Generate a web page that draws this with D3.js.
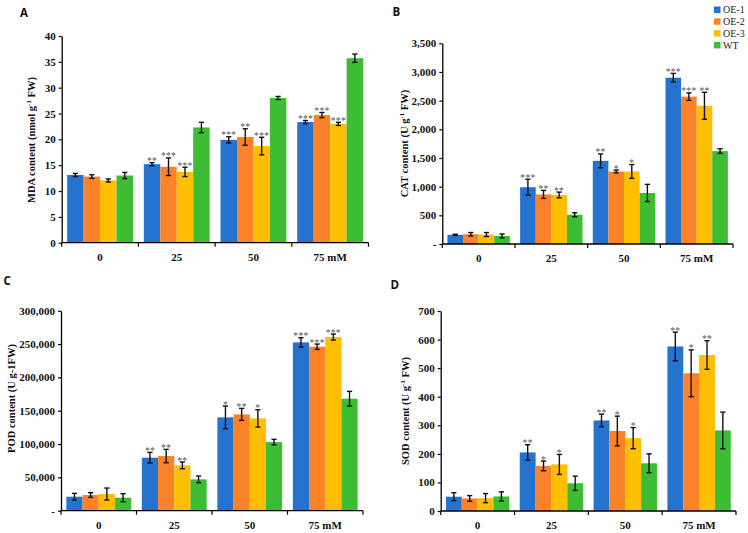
<!DOCTYPE html>
<html>
<head>
<meta charset="utf-8">
<script src="https://cdn.jsdelivr.net/npm/d3@7"></script>
<style>
  html, body { margin: 0; padding: 0; background: #fff; }
  svg { display: block; }
</style>
</head>
<body>
<svg id="chart" width="748" height="533"></svg>
<script>
// ---------- DATA ----------
const groups = ["0", "25", "50", "75 mM"];
const series = ["OE-1", "OE-2", "OE-3", "WT"];

// values[group][series]
const mdaValues = [[13.1, 12.8, 12.05, 13.0], [15.2, 14.7, 13.7, 22.3], [19.9, 20.45, 18.7, 28.0], [23.35, 24.7, 23.0, 35.7]];
const mdaErrors = [[0.3, 0.35, 0.3, 0.6], [0.3, 1.7, 0.9, 1.0], [0.6, 1.6, 1.7, 0.3], [0.3, 0.5, 0.3, 0.8]];
const mdaStars = [["", "", "", ""], ["**", "***", "***", ""], ["***", "**", "***", ""], ["***", "***", "***", ""]];
const mdaTicks = [0, 5, 10, 15, 20, 25, 30, 35, 40];
const mdaTickLabels = ["0", "5", "10", "15", "20", "25", "30", "35", "40"];

const catValues = [[160, 170, 165, 140], [990, 865, 855, 510], [1450, 1265, 1265, 890], [2900, 2570, 2410, 1620]];
const catErrors = [[10, 30, 35, 35], [140, 70, 50, 35], [120, 25, 120, 150], [75, 65, 235, 40]];
const catStars = [["", "", "", ""], ["***", "**", "**", ""], ["**", "*", "*", ""], ["***", "***", "**", ""]];
const catTicks = [0, 500, 1000, 1500, 2000, 2500, 3000, 3500];
const catTickLabels = ["-", "500", "1,000", "1,500", "2,000", "2,500", "3,000", "3,500"];

const podValues = [[21000, 23500, 25000, 19500], [79500, 82000, 68000, 47000], [140000, 144500, 138500, 103000], [252500, 246000, 260500, 168000]];
const podErrors = [[5000, 3500, 9000, 6000], [8000, 10000, 5000, 5000], [17000, 9000, 13000, 4000], [7000, 4000, 4500, 11000]];
const podStars = [["", "", "", ""], ["**", "**", "**", ""], ["*", "**", "*", ""], ["***", "***", "***", ""]];
const podTicks = [0, 50000, 100000, 150000, 200000, 250000, 300000];
const podTickLabels = ["-", "50,000", "100,000", "150,000", "200,000", "250,000", "300,000"];

const sodValues = [[50, 44, 45, 51], [205, 158, 163, 97], [317, 280, 255, 167], [576, 482, 546, 282]];
const sodErrors = [[14, 10, 16, 16], [27, 17, 35, 25], [22, 52, 37, 33], [50, 82, 50, 64]];
const sodStars = [["", "", "", ""], ["**", "*", "*", ""], ["**", "*", "*", ""], ["**", "*", "**", ""]];
const sodTicks = [0, 100, 200, 300, 400, 500, 600, 700];
const sodTickLabels = ["0", "100", "200", "300", "400", "500", "600", "700"];

// ---------- STYLE / LAYOUT ----------
const colors = ["#2672cf", "#fa8228", "#ffbf00", "#3cbd33"];
const serif = "'Liberation Serif','Times New Roman',serif";
const svg = d3.select("#chart");
svg.append("rect").attr("width", 748).attr("height", 533).attr("fill", "#fff");

const panels = [
  { letter: "A", lx: 20, ly: 16.5, x0: 61.7, x1: 368.5, yTop: 36, yBot: 242.7, max: 40,
    values: mdaValues, errors: mdaErrors, stars: mdaStars, ticks: mdaTicks, tickLabels: mdaTickLabels,
    labelX: 33, labelY: 140, label: ["MDA content (nmol g", "-1", " FW)"] },
  { letter: "B", lx: 392.5, ly: 15.5, x0: 442.3, x1: 733, yTop: 43.3, yBot: 244, max: 3500,
    values: catValues, errors: catErrors, stars: catStars, ticks: catTicks, tickLabels: catTickLabels,
    labelX: 405.7, labelY: 143.5, label: ["CAT content (U g", "-1", " FW)"] },
  { letter: "C", lx: 3.5, ly: 284.5, x0: 61, x1: 363, yTop: 310.7, yBot: 510.7, max: 300000,
    values: podValues, errors: podErrors, stars: podStars, ticks: podTicks, tickLabels: podTickLabels,
    labelX: 13.3, labelY: 398.5, label: ["POD content (U g-1FW)"] },
  { letter: "D", lx: 390.5, ly: 288.5, x0: 440.7, x1: 736, yTop: 311, yBot: 511, max: 700,
    values: sodValues, errors: sodErrors, stars: sodStars, ticks: sodTicks, tickLabels: sodTickLabels,
    labelX: 407, labelY: 411, label: ["SOD content (U g", "-1", " FW)"] }
];

panels.forEach(p => {
  const g = svg.append("g");
  const x = d3.scaleBand().domain(groups).range([p.x0, p.x1]).padding(0);
  const xs = d3.scaleBand().domain(series).range([0, x.bandwidth()]).paddingInner(0).paddingOuter(0.33);
  const y = d3.scaleLinear().domain([0, p.max]).range([p.yBot, p.yTop]);

  // bars
  groups.forEach((grp, gi) => {
    series.forEach((s, si) => {
      const v = p.values[gi][si], e = p.errors[gi][si];
      const bx = x(grp) + xs(s);
      const cx = bx + xs.bandwidth() / 2;
      g.append("rect").attr("x", bx).attr("y", y(v)).attr("width", xs.bandwidth())
        .attr("height", y(0) - y(v)).attr("fill", colors[si]);
      // error bars
      const eg = g.append("g").attr("stroke", "#111").attr("stroke-width", 1.4);
      eg.append("line").attr("x1", cx).attr("x2", cx).attr("y1", y(v + e)).attr("y2", y(v - e));
      eg.append("line").attr("x1", cx - 2.6).attr("x2", cx + 2.6).attr("y1", y(v + e)).attr("y2", y(v + e));
      eg.append("line").attr("x1", cx - 2.6).attr("x2", cx + 2.6).attr("y1", y(v - e)).attr("y2", y(v - e));
      const st = p.stars[gi][si];
      if (st) {
        g.append("text").attr("x", cx).attr("y", y(v + e) + 1.5).attr("text-anchor", "middle")
          .attr("font-family", serif).attr("font-size", 9.5).attr("fill", "#555")
          .attr("letter-spacing", 0.3).text(st);
      }
    });
  });

  // y axis
  const yAxis = d3.axisLeft(y).tickValues(p.ticks)
    .tickFormat((d, i) => p.tickLabels[i]).tickSize(3).tickSizeOuter(0).tickPadding(3);
  const ya = g.append("g").attr("transform", `translate(${p.x0},0)`).call(yAxis);
  ya.select(".domain").attr("stroke", "#000").attr("stroke-width", 1.3);
  ya.selectAll(".tick line").attr("stroke", "#000").attr("stroke-width", 1.2);
  ya.selectAll("text").attr("font-family", serif).attr("font-weight", "bold")
    .attr("font-size", 11).attr("fill", "#111");

  // x axis
  g.append("line").attr("x1", p.x0).attr("x2", p.x1).attr("y1", p.yBot).attr("y2", p.yBot)
    .attr("stroke", "#000").attr("stroke-width", 1.3);
  const bounds = groups.map(d => x(d)).concat([p.x1]);
  g.selectAll(".xb").data(bounds).enter().append("line")
    .attr("x1", d => d).attr("x2", d => d).attr("y1", p.yBot).attr("y2", p.yBot + 4)
    .attr("stroke", "#000").attr("stroke-width", 1.2);
  g.selectAll(".xl").data(groups).enter().append("text")
    .attr("x", d => x(d) + x.bandwidth() / 2).attr("y", p.yBot + 18)
    .attr("text-anchor", "middle").attr("font-family", serif).attr("font-weight", "bold")
    .attr("font-size", 11).attr("fill", "#111").text(d => d);

  // y label
  const t = g.append("text").attr("transform", `translate(${p.labelX},${p.labelY}) rotate(-90)`)
    .attr("text-anchor", "middle").attr("dominant-baseline", "middle")
    .attr("font-family", serif).attr("font-weight", "bold").attr("font-size", 10.5).attr("fill", "#111");
  p.label.forEach((part, i) => {
    const ts = t.append("tspan").text(part);
    if (part === "-1") {
      ts.attr("font-size", 7).attr("dy", -4);
    } else if (i > 0 && p.label[i - 1] === "-1") {
      ts.attr("dy", 4);
    }
  });

  // panel letter
  g.append("text").attr("x", p.lx).attr("y", p.ly).attr("font-family", "'Open Sans','Liberation Sans',sans-serif")
    .attr("font-weight", "bold").attr("font-size", 11.5).attr("fill", "#111").text(p.letter);
});

// legend
const lg = svg.append("g");
series.forEach((s, i) => {
  lg.append("rect").attr("x", 714).attr("y", 6.5 + i * 11.8).attr("width", 6.5).attr("height", 6.5).attr("fill", colors[i]);
  lg.append("text").attr("x", 723).attr("y", 13.3 + i * 11.8).attr("font-family", serif)
    .attr("font-size", 10).attr("fill", "#222").text(s);
});
</script>
</body>
</html>
